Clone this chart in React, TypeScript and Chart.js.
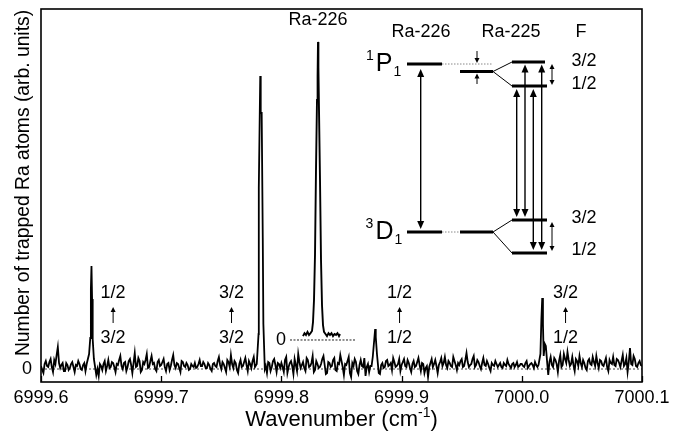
import React, { useEffect, useRef } from 'react';
import { Chart, registerables } from 'chart.js';

Chart.register(...registerables);

const FONT = '"Liberation Sans", Arial, Helvetica, sans-serif';

// ---- axes ----
const X_MIN = 6999.6;
const X_MAX = 7000.1;
const X_TICKS = [6999.6, 6999.7, 6999.8, 6999.9, 7000.0, 7000.1];
const X_TICK_LABELS = ['6999.6', '6999.7', '6999.8', '6999.9', '7000.0', '7000.1'];
const Y_MIN = -1.3;
const Y_MAX = 36.0;
const Y_TICKS = [0];
const Y_TICK_LABELS = ['0'];
const X_TITLE = 'Wavenumber (cm';
const X_TITLE_SUP = '-1';
const Y_TITLE = 'Number of trapped Ra atoms (arb. units)';

// ---- baseline (noise) readings: step 0.002 cm-1 on even grid and on the odd (+0.001) grid ----
const BASE_STEP = 0.002;
const BASE_A = [
  0.3, -0.4, 0.8, 0.2, 1.0, -0.3, 0.5, 2.2, 0.1, 0.6,
  -0.2, 0.4, 0.1, 0.7, -0.3, 0.3, 0.5, -0.1, 0.6, 0.2,
  0.4, 0.3, 0.2, 0.1, -0.7, 0.3, 0.5, -0.2, 0.9, 0.2,
  0.6, -0.3, 0.4, 1.3, 0.0, 0.7, 0.2, 1.0, -0.4, 1.6,
  0.3, 0.8, -0.1, 0.5, 1.5, 0.2, 1.3, 0.6, -0.2, 0.9,
];
const BASE_A2 = [
  -0.1, 0.5, 0.3, 0.7, 0.2, 0.9, 1.4, 0.6, 0.4, -0.2,
  0.6, -0.1, 0.5, 0.2, 0.4, 0.8, 0.0, 0.4, -0.2, 0.5,
  0.3, 0.2, 0.1, 0.0, 0.5, -0.1, 0.8, 0.3, 0.1, 0.7,
  0.2, 0.5, 0.9, 0.3, 0.6, -0.2, 0.8, 0.4, 0.6, 0.2,
  1.1, -0.3, 0.7, 0.9, 0.1, 0.8, 0.5, 0.0, 0.7, 0.3,
];
const BASE_B = [
  0.4, 1.0, -0.2, 0.6, 0.3, 1.4, 0.1, 0.5, -0.3, 0.7,
  0.2, 0.4, 0.0, 0.3, 0.6, 0.2, 0.9, 0.3, 0.5, 0.1,
  0.4, -0.2, 0.6, 0.2, 1.2, 0.0, 0.5, -0.3, 0.7, 1.4,
  0.1, 0.6, -0.4, 0.9, 0.3, 1.1, -0.2, 0.5, 0.8, 0.2,
  0.3, 0.2, 0.4, 0.1, -0.4, 0.6, 0.2, 1.0, -0.3, 0.5,
];
const BASE_B2 = [
  0.7, 0.2, 0.5, -0.1, 0.9, 0.4, 0.6, 0.1, 0.8, 0.3,
  0.6, -0.1, 0.5, 0.2, 0.1, 0.5, 0.3, 0.7, 0.1, 0.6,
  0.0, 0.5, 0.3, 0.8, 0.4, 0.7, 0.1, 0.9, 0.2, 0.5,
  0.8, -0.1, 0.5, 0.2, 0.7, 0.4, 0.8, 0.1, 1.2, -0.2,
  0.3, 0.3, 0.3, 0.3, 0.7, -0.2, 0.8, 0.4, 0.6, 0.1,
];
const BASE_C = [
  0.6, -0.3, 1.2, 0.2, 0.8, -0.5, 0.4, 1.5, 0.1, 0.7,
  -0.2, 0.9, 0.3, 1.3, -0.1, 0.5, 0.2, 1.0, 0.4, -0.4,
  0.6, 0.3, 1.1, -0.2, 0.5, 0.8, -0.6, 0.4, 1.2, -0.8,
  0.3, 0.7, -0.5, 0.9, 0.2, -0.7, 0.5, 0.3, 0.2, 0.4,
  0.1, -0.5, 0.6, 0.2, 0.9, 0.4, -0.1, 0.7, 0.3, 1.0,
];
const BASE_C2 = [
  0.2, 0.9, -0.4, 0.6, 0.3, 1.0, -0.2, 0.7, 0.4, 0.1,
  1.1, 0.2, 0.6, -0.3, 0.8, 0.1, 0.5, 1.3, -0.5, 0.7,
  0.2, 0.9, -0.1, 0.6, 1.4, 0.2, 0.5, 0.8, -0.4, 0.6,
  1.0, -0.2, 0.4, 0.3, 1.1, 0.2, -0.3, 0.6, 0.3, 0.3,
  0.3, 0.4, 0.1, 0.8, 0.3, 0.6, 1.1, 0.2, 0.5, -0.2,
];
const BASE_D = [
  0.4, 1.0, 0.2, 0.6, -0.3, 0.8, 0.3, 1.1, -0.2, 0.5,
  0.1, -0.8, 0.6, 0.2, 0.9, -0.4, 0.7, 0.3, 1.2, 0.1,
  0.6, 0.2, 0.8, -0.1, 0.4, 1.0, 0.3, 1.6, 0.2, 0.5,
  1.3, 0.4, 0.7, 0.0, 1.1, 0.3, 0.5, -0.2, 0.4, 0.8,
  0.2, 0.6, 0.1, 0.4, 0.9, 0.3, 0.5, 0.2, 0.7, 0.3,
];
const BASE_D2 = [
  0.7, 0.3, 0.9, 0.1, 0.5, 0.2, 0.7, 0.4, 0.6, -0.4,
  0.3, 0.2, 1.0, 0.5, 0.3, 0.4, 1.1, 0.6, 0.4, 0.8,
  0.3, 1.2, 0.4, 0.6, 0.8, 0.2, 0.9, 0.7, 0.4, 1.0,
  0.2, 0.9, 0.3, 0.6, 0.4, 0.8, 0.1, 0.6, 0.3, 0.5,
  0.4, 0.2, 0.6, 0.3, 0.5, 0.1, 0.6, 0.4, 0.2, 0.5,
];
const BASE_E = [
  0.5, 0.2, 0.8, 0.3, 0.6, 0.1, 0.4, 0.3, 0.2, 0.4,
  0.3, -0.6, 1.2, 0.2, 0.9, -0.3, 1.4, 0.4, 1.0, 1.7,
  0.3, 1.2, -0.2, 0.8, 1.3, 0.2, 0.6, -0.1, 1.0, 0.4,
  0.7, 1.3, 0.1, 0.8, 0.3, 1.1, -0.2, 0.6, 1.2, 0.3,
  0.9, 0.2, 1.4, 0.5, -0.3, 2.1, 0.4, 1.0, 0.2, 0.8,
  0.3,
];
const BASE_E2 = [
  0.3, 0.6, 0.1, 0.5, 0.4, 0.7, 0.2, 0.3, 0.3, 0.3,
  0.3, 0.7, 0.4, 1.1, 0.5, 0.8, 0.2, 1.5, 0.6, 0.9,
  0.5, 0.4, 1.0, 0.3, 0.6, 0.9, 0.1, 0.8, 0.5, 1.2,
  0.3, 0.6, 0.9, 0.4, 0.7, 0.2, 0.9, 0.5, 0.4, 1.0,
  0.6, 0.8, 0.3, 1.1, 0.7, 0.5, 1.3, 0.3, 0.6, 0.4,
];
const BASE_STARTS = [6999.6, 6999.7, 6999.8, 6999.9, 7000.0];

// ---- resonance peaks (x in cm-1, y in arb. units) ----
const PEAK1_X = [6999.638, 6999.640, 6999.641, 6999.6415, 6999.642, 6999.6425, 6999.643, 6999.644, 6999.646];
const PEAK1_Y = [0.5, 1.5, 3.1, 8.0, 10.3, 7.0, 3.0, 1.0, -0.6];
const PEAK2_X = [6999.7795, 6999.7810, 6999.7812, 6999.7824, 6999.7828, 6999.7836, 6999.7845, 6999.7850, 6999.7862];
const PEAK2_Y = [0.5, 3.5, 18.1, 29.3, 25.6, 25.6, 13.1, 4.5, 0.0];
const PEAK3_X = [6999.875, 6999.876, 6999.877, 6999.878, 6999.8785, 6999.8795, 6999.881];
const PEAK3_Y = [0.3, 1.2, 2.6, 4.0, 3.2, 1.5, -0.4];
const PEAK4_X = [7000.0139, 7000.0155, 7000.0163, 7000.0170, 7000.0176, 7000.0182, 7000.0192, 7000.0200, 7000.0212];
const PEAK4_Y = [0.4, 1.5, 5.0, 7.1, 4.5, 1.3, 2.5, 2.3, 0.5];

// ---- transition labels (F' <- F) ----
const TRANS_X = [6999.660, 6999.7585, 6999.8983, 7000.0364];
const TRANS_UPPER = ['1/2', '3/2', '1/2', '3/2'];
const TRANS_LOWER = ['3/2', '3/2', '1/2', '1/2'];
const TRANS_UPPER_Y = 7.6;
const TRANS_LOWER_Y = 3.1;
const TRANS_ARROW_FROM = 4.6;
const TRANS_ARROW_TO = 6.2;

// ---- inset: Ra-226 resonance (relative detuning u, normalised signal v) ----
const INSET_U = [
  -1.5, -1.35, -1.2, -1.05, -0.9, -0.75, -0.6, -0.5, -0.4, -0.3, -0.2, -0.1, -0.04, 0,
  0.04, 0.1, 0.2, 0.3, 0.4, 0.5, 0.6, 0.75, 0.9, 1.05, 1.2, 1.35, 1.5, 1.65, 1.8, 1.95, 2.1, 2.2,
];
const INSET_V = [
  0.013, 0.023, 0.017, 0.027, 0.017, 0.023, 0.03, 0.06, 0.134, 0.284, 0.569, 0.803, 0.88, 0.997,
  0.913, 0.769, 0.535, 0.268, 0.117, 0.05, 0.027, 0.02, 0.013, 0.023, 0.017, 0.023, 0.013, 0.02, 0.017, 0.023, 0.013, 0.02,
];
const INSET_ZERO_U = [-2.8, 3.7];
const INSET_LABEL = 'Ra-226';
const U_MIN = -27.7, U_MAX = 32.4;
const V_MIN = -0.1405, V_MAX = 1.107;

const PEAKS = [
  { x: PEAK1_X, y: PEAK1_Y },
  { x: PEAK2_X, y: PEAK2_Y },
  { x: PEAK3_X, y: PEAK3_Y },
  { x: PEAK4_X, y: PEAK4_Y },
];

function buildSpectrum() {
  const pts: { x: number; y: number }[] = [];
  const grids: [number[][], number][] = [
    [[BASE_A, BASE_B, BASE_C, BASE_D, BASE_E], 0],
    [[BASE_A2, BASE_B2, BASE_C2, BASE_D2, BASE_E2], 0.001],
  ];
  grids.forEach(([segs, off]) => {
    segs.forEach((arr, s) => {
      arr.forEach((v, i) => {
        const x = +(BASE_STARTS[s] + off + i * BASE_STEP).toFixed(4);
        const inPeak = PEAKS.some((p) => x >= p.x[0] - 0.0006 && x <= p.x[p.x.length - 1] + 0.0006);
        if (!inPeak) pts.push({ x, y: v });
      });
    });
  });
  PEAKS.forEach((p) => p.x.forEach((x, i) => pts.push({ x, y: p.y[i] })));
  pts.sort((a, b) => a.x - b.x);
  return pts;
}

function arrowHead(ctx: CanvasRenderingContext2D, x: number, y: number, dir: number, len: number, hw: number) {
  // dir = -1 : pointing up (tip at y), dir = 1 : pointing down
  ctx.beginPath();
  ctx.moveTo(x, y);
  ctx.lineTo(x - hw, y - dir * len);
  ctx.lineTo(x + hw, y - dir * len);
  ctx.closePath();
  ctx.fill();
}

function txt(ctx: CanvasRenderingContext2D, s: string, x: number, y: number, size: number, align: CanvasTextAlign = 'center') {
  ctx.font = `${size}px ${FONT}`;
  ctx.textAlign = align;
  ctx.textBaseline = 'middle';
  ctx.fillText(s, x, y);
}

const decorPlugin = {
  id: 'decor',
  afterDatasetsDraw(chart: any) {
    const ctx: CanvasRenderingContext2D = chart.ctx;
    const ca = chart.chartArea;
    const xs = chart.scales.x;
    const ys = chart.scales.y;
    const us = chart.scales.x2;
    const vs = chart.scales.y2;
    ctx.save();
    ctx.fillStyle = '#000';
    ctx.strokeStyle = '#000';

    // frame
    ctx.lineWidth = 1.6;
    ctx.strokeRect(ca.left, ca.top, ca.width, ca.height);

    // inner x ticks
    ctx.lineWidth = 1.3;
    X_TICKS.forEach((v) => {
      const px = Math.round(xs.getPixelForValue(v)) + 0.5;
      ctx.beginPath();
      ctx.moveTo(px, ca.bottom);
      ctx.lineTo(px, ca.bottom - 6);
      ctx.stroke();
    });

    // transition labels
    TRANS_X.forEach((v, i) => {
      const px = xs.getPixelForValue(v);
      txt(ctx, TRANS_UPPER[i], px, ys.getPixelForValue(TRANS_UPPER_Y), 18);
      txt(ctx, TRANS_LOWER[i], px, ys.getPixelForValue(TRANS_LOWER_Y), 18);
      const y0 = ys.getPixelForValue(TRANS_ARROW_FROM);
      const y1 = ys.getPixelForValue(TRANS_ARROW_TO);
      ctx.lineWidth = 1;
      ctx.beginPath();
      ctx.moveTo(px, y0);
      ctx.lineTo(px, y1 + 4);
      ctx.stroke();
      arrowHead(ctx, px, y1, -1, 5, 2.5);
    });

    // inset labels
    txt(ctx, '0', us.getPixelForValue(-3.7), vs.getPixelForValue(0), 18);
    txt(ctx, INSET_LABEL, us.getPixelForValue(0), vs.getPixelForValue(1.07), 18);

    // energy level diagram (schematic, placed relative to plot area)
    const sx = (p: number) => ca.left + ((p - 41) * ca.width) / 601;
    const sy = (p: number) => ca.top + ((p - 9) * ca.height) / 373;
    txt(ctx, 'Ra-226', sx(421), sy(32), 18);
    txt(ctx, 'Ra-225', sx(511), sy(32), 18);
    txt(ctx, 'F', sx(581), sy(32), 18);
    txt(ctx, '3/2', sx(584), sy(61), 18);
    txt(ctx, '1/2', sx(584), sy(84), 18);
    txt(ctx, '3/2', sx(584), sy(218), 18);
    txt(ctx, '1/2', sx(584), sy(250), 18);
    // term symbols
    txt(ctx, '1', sx(370), sy(56), 14);
    txt(ctx, 'P', sx(384), sy(64), 25);
    txt(ctx, '1', sx(397.5), sy(72), 14);
    txt(ctx, '3', sx(369.5), sy(224), 14);
    txt(ctx, 'D', sx(384.5), sy(232), 25);
    txt(ctx, '1', sx(398.5), sy(240), 14);

    const hline = (x1: number, x2: number, y: number) => {
      ctx.beginPath();
      ctx.moveTo(sx(x1), sy(y));
      ctx.lineTo(sx(x2), sy(y));
      ctx.stroke();
    };
    const seg = (x1: number, y1: number, x2: number, y2: number) => {
      ctx.beginPath();
      ctx.moveTo(sx(x1), sy(y1));
      ctx.lineTo(sx(x2), sy(y2));
      ctx.stroke();
    };
    // levels
    ctx.lineWidth = 3;
    hline(407, 442, 64);
    hline(460, 493, 71.5);
    hline(512, 545, 62);
    hline(512, 547, 86);
    hline(407, 442, 232);
    hline(460, 493, 232);
    hline(512, 547, 220);
    hline(512, 547, 253);
    // dotted connectors
    ctx.lineWidth = 1;
    ctx.strokeStyle = '#888';
    ctx.setLineDash([1.5, 1.5]);
    hline(442, 493, 64);
    hline(442, 460, 232);
    ctx.setLineDash([]);
    ctx.strokeStyle = '#000';
    // hyperfine splitting lines
    ctx.lineWidth = 1;
    seg(493, 71.5, 512, 62);
    seg(493, 71.5, 512, 86);
    seg(493, 232, 512, 220);
    seg(493, 232, 512, 253);
    // isotope shift arrows
    seg(477, 51, 477, 58);
    arrowHead(ctx, sx(477), sy(63), 1, 5, 2.5);
    seg(477, 84, 477, 78);
    arrowHead(ctx, sx(477), sy(73.5), -1, 5, 2.5);
    // double arrows
    const dbl = (x: number, yTop: number, yBot: number, lw: number, len: number, hw: number) => {
      ctx.lineWidth = lw;
      seg(x, yTop + len * 0.8, x, yBot - len * 0.8);
      arrowHead(ctx, sx(x), sy(yTop), -1, len, hw);
      arrowHead(ctx, sx(x), sy(yBot), 1, len, hw);
    };
    dbl(420.7, 69, 229, 1.4, 8, 3.5);
    dbl(516.7, 89, 217, 1.4, 8, 3.5);
    dbl(525, 64.5, 217, 1.4, 8, 3.5);
    dbl(533.3, 89, 250, 1.4, 8, 3.5);
    dbl(541.7, 64.5, 250, 1.4, 8, 3.5);
    dbl(552, 64, 85, 1, 5, 2.5);
    dbl(552, 222, 251, 1, 5, 2.5);

    ctx.restore();
  },
  afterDraw(chart: any) {
    const ctx: CanvasRenderingContext2D = chart.ctx;
    const ca = chart.chartArea;
    ctx.save();
    ctx.fillStyle = '#000';
    // x title with superscript
    ctx.textBaseline = 'middle';
    ctx.textAlign = 'left';
    const big = `22px ${FONT}`;
    const small = `14px ${FONT}`;
    ctx.font = big;
    const w1 = ctx.measureText(X_TITLE).width;
    const w3 = ctx.measureText(')').width;
    ctx.font = small;
    const w2 = ctx.measureText(X_TITLE_SUP).width;
    const total = w1 + w2 + w3;
    const cx = (ca.left + ca.right) / 2;
    let x = cx - total / 2;
    const y = ca.bottom + 38;
    ctx.font = big;
    ctx.fillText(X_TITLE, x, y);
    x += w1;
    ctx.font = small;
    ctx.fillText(X_TITLE_SUP, x, y - 7);
    x += w2;
    ctx.font = big;
    ctx.fillText(')', x, y);
    // y title
    ctx.translate(29, ca.top + 174);
    ctx.rotate(-Math.PI / 2);
    ctx.font = `19.3px ${FONT}`;
    ctx.textAlign = 'center';
    ctx.textBaseline = 'alphabetic';
    ctx.fillText(Y_TITLE, 0, 0);
    ctx.restore();
  },
};

export default function App() {
  const ref = useRef<HTMLCanvasElement>(null);
  useEffect(() => {
    document.body.style.margin = '0';
    const canvas = ref.current!;
    const spectrum = buildSpectrum();
    const inset = INSET_U.map((u, i) => ({ x: u, y: INSET_V[i] }));
    const chart = new Chart(canvas, {
      type: 'line',
      data: {
        datasets: [
          {
            data: spectrum,
            borderColor: '#000',
            borderWidth: 1.8,
            pointRadius: 0,
            tension: 0,
            xAxisID: 'x',
            yAxisID: 'y',
          },
          {
            data: inset,
            borderColor: '#000',
            borderWidth: 1.9,
            pointRadius: 0,
            tension: 0,
            xAxisID: 'x2',
            yAxisID: 'y2',
          },
          {
            data: [{ x: X_MIN, y: 0 }, { x: X_MAX, y: 0 }],
            borderColor: '#444',
            borderWidth: 1,
            borderDash: [2, 2],
            pointRadius: 0,
            xAxisID: 'x',
            yAxisID: 'y',
          },
          {
            data: INSET_ZERO_U.map((u) => ({ x: u, y: 0 })),
            borderColor: '#222',
            borderWidth: 1,
            borderDash: [2, 1.5],
            pointRadius: 0,
            xAxisID: 'x2',
            yAxisID: 'y2',
          },
        ],
      } as any,
      options: {
        responsive: false,
        animation: false,
        parsing: false as any,
        normalized: true,
        layout: { padding: { top: 9, right: 39, left: 0, bottom: 0 } },
        plugins: { legend: { display: false }, tooltip: { enabled: false } },
        scales: {
          x: {
            type: 'linear',
            min: X_MIN,
            max: X_MAX,
            grid: { display: false, drawTicks: false },
            border: { display: false },
            afterBuildTicks: (s: any) => {
              s.ticks = X_TICKS.map((v) => ({ value: v }));
            },
            afterFit: (s: any) => {
              s.height = 52;
              s.paddingLeft = 0;
              s.paddingRight = 0;
            },
            ticks: {
              padding: 5,
              autoSkip: false,
              maxRotation: 0,
              color: '#000',
              font: { family: FONT, size: 18 },
              callback: (v: any) => {
                const i = X_TICKS.findIndex((t) => Math.abs(t - Number(v)) < 1e-6);
                return i >= 0 ? X_TICK_LABELS[i] : '';
              },
            },
          },
          y: {
            type: 'linear',
            min: Y_MIN,
            max: Y_MAX,
            grid: { display: false, drawTicks: false },
            border: { display: false },
            afterBuildTicks: (s: any) => {
              s.ticks = Y_TICKS.map((v) => ({ value: v }));
            },
            afterFit: (s: any) => {
              s.width = 41;
              s.paddingTop = 0;
              s.paddingBottom = 0;
            },
            ticks: {
              padding: 9,
              color: '#000',
              font: { family: FONT, size: 18 },
              callback: (v: any) => {
                const i = Y_TICKS.findIndex((t) => Math.abs(t - Number(v)) < 1e-6);
                return i >= 0 ? Y_TICK_LABELS[i] : '';
              },
            },
          },
          x2: { type: 'linear', display: false, min: U_MIN, max: U_MAX },
          y2: { type: 'linear', display: false, min: V_MIN, max: V_MAX },
        },
      } as any,
      plugins: [decorPlugin],
    });
    return () => chart.destroy();
  }, []);
  return (
    <div style={{ width: 681, height: 434 }}>
      <canvas ref={ref} width={681} height={434} style={{ display: 'block', width: '681px', height: '434px' }} />
    </div>
  );
}
